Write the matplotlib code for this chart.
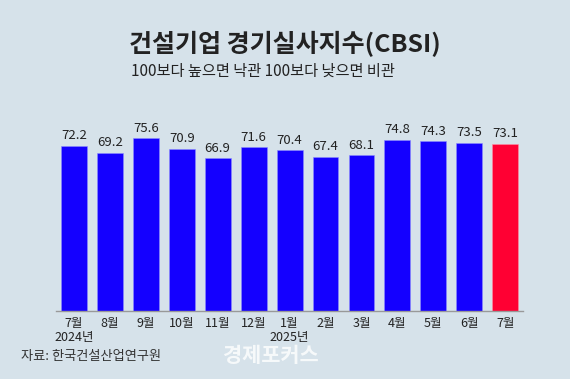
import matplotlib
matplotlib.use("Agg")
import matplotlib.pyplot as plt

plt.rcParams['font.family'] = ['Noto Sans CJK KR', 'DejaVu Sans']

months = ["7월", "8월", "9월", "10월", "11월", "12월", "1월", "2월", "3월", "4월", "5월", "6월", "7월"]
values = [72.2, 69.2, 75.6, 70.9, 66.9, 71.6, 70.4, 67.4, 68.1, 74.8, 74.3, 73.5, 73.1]
year_labels = {0: "2024년", 6: "2025년"}

BG = "#d6e2ea"
BLUE = "#1400ff"
RED = "#ff0033"

fig = plt.figure(figsize=(5.7, 3.79), dpi=100, facecolor=BG)
ax = fig.add_axes([0.098, 0.179, 0.82, 0.604], facecolor=BG)

x = list(range(len(values)))
colors = [BLUE] * (len(values) - 1) + [RED]
edges = ["#8c8cff"] * (len(values) - 1) + ["#ff8fa6"]
ax.bar(x, values, width=0.72, color=colors, edgecolor=edges, linewidth=0.4)
for xi, v in zip(x, values):
    ax.text(xi, v + 1.5, f"{v:.1f}", ha="center", va="bottom", fontsize=9.5, color="#222222")

ax.set_xlim(-0.5, 12.5)
ax.set_ylim(0, 100)
for s in ["top", "right", "left"]:
    ax.spines[s].set_visible(False)
ax.spines["bottom"].set_color("#999999")
ax.spines["bottom"].set_linewidth(1)
ax.set_yticks([])
ax.set_xticks(x)
ax.set_xticklabels(months, fontsize=9, color="#222222")
ax.tick_params(axis="x", length=0, pad=4.5)
for i, lab in year_labels.items():
    ax.text(i, -0.088, lab, transform=ax.get_xaxis_transform(), ha="center", va="top",
            fontsize=9, color="#222222")

fig.text(0.5, 0.885, "건설기업 경기실사지수(CBSI)", ha="center", va="center",
         fontsize=18, fontweight="bold", color="#222222")
fig.text(0.23, 0.812, "100보다 높으면 낙관 100보다 낮으면 비관", ha="left", va="center",
         fontsize=11, color="#222222")
fig.text(0.036, 0.06, "자료: 한국건설산업연구원", ha="left", va="center",
         fontsize=9.5, color="#333333")
fig.text(0.475, 0.062, "경제포커스", ha="center", va="center",
         fontsize=15, fontweight="bold", color="white", alpha=0.8)

fig.savefig("out.png", dpi=100, facecolor=BG)
